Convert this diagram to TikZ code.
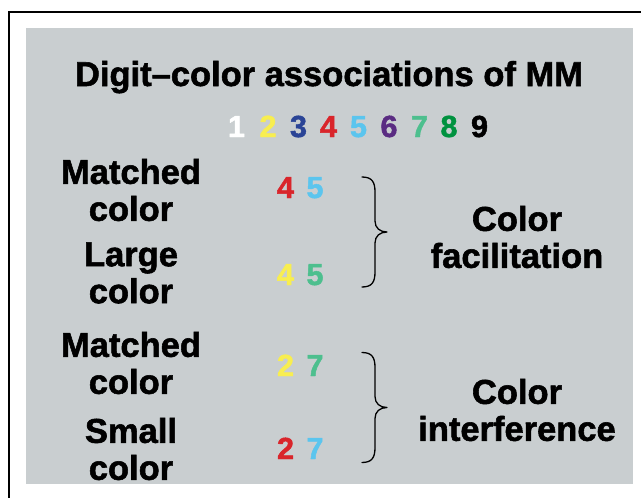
\documentclass[tikz,border=0pt]{standalone}
\usepackage{fontspec}
\setmainfont[BoldFeatures={FakeBold=1.6}]{Liberation Sans}
\definecolor{panel}{RGB}{201,206,208}
\definecolor{dyellow}{RGB}{248,238,80}
\definecolor{dblue}{RGB}{42,68,150}
\definecolor{dred}{RGB}{217,37,43}
\definecolor{dlblue}{RGB}{91,197,238}
\definecolor{dpurple}{RGB}{90,44,130}
\definecolor{dteal}{RGB}{77,191,142}
\definecolor{dgreen}{RGB}{0,146,63}
\tikzset{
  lab/.style={font=\fontsize{34.5}{37}\selectfont\bfseries, align=center, inner sep=0pt},
  titletext/.style={font=\fontsize{34.5}{37}\selectfont\bfseries, anchor=base, inner sep=0pt},
  dig/.style={font=\fontsize{30.5}{30}\selectfont\bfseries, anchor=base, inner sep=0pt},
  bracestyle/.style={line width=1.3pt, line cap=round, line join=round},
  cbrace/.pic={\draw[bracestyle] (0,0) .. controls (10,0) and (13,5) .. (13,15) -- (13,44)
      .. controls (13,51) and (18,55) .. (25,55) .. controls (18,55) and (13,59) .. (13,66)
      -- (13,95) .. controls (13,105) and (10,110) .. (0,110);}
}
\begin{document}
\begin{tikzpicture}[x=1pt,y=-1pt]
\useasboundingbox (0,0) rectangle (641,498);
\fill[white] (0,0) rectangle (641,498);
\fill[panel] (26,28) rectangle (633,484);
\coordinate (fbl) at (9,499);
\coordinate (ftl) at (9,12);
\coordinate (ftr) at (642,12);
\draw[line width=2pt] (fbl) -- (ftl) -- (ftr);

\node[titletext] (title) at (329,86) {Digit–color associations of MM};

\node[dig, text=white]   (d1) at (236.5,137) {1};
\node[dig, text=dyellow] (d2) at (268,137) {2};
\node[dig, text=dblue]   (d3) at (298.5,137) {3};
\node[dig, text=dred]    (d4) at (328.5,137) {4};
\node[dig, text=dlblue]  (d5) at (358.5,137) {5};
\node[dig, text=dpurple] (d6) at (389,137) {6};
\node[dig, text=dteal]   (d7) at (419.5,137) {7};
\node[dig, text=dgreen]  (d8) at (449,137) {8};
\node[dig, text=black]   (d9) at (479.5,137) {9};

\node[lab] (l1) at (131,190) {Matched\\color};
\node[lab] (l2) at (131,273) {Large\\color};
\node[lab] (l3) at (131,363) {Matched\\color};
\node[lab] (l4) at (131,449) {Small\\color};

\node[dig, text=dred]    (p1a) at (285.5,198) {4};
\node[dig, text=dlblue]  (p1b) at (315,198) {5};
\node[dig, text=dyellow] (p2a) at (285.5,285) {4};
\node[dig, text=dteal]   (p2b) at (315,285) {5};
\node[dig, text=dyellow] (p3a) at (285.5,376) {2};
\node[dig, text=dteal]   (p3b) at (315,376) {7};
\node[dig, text=dred]    (p4a) at (285.5,459) {2};
\node[dig, text=dlblue]  (p4b) at (315,459) {7};

\pic (b1) at (362,177) {cbrace};
\pic (b2) at (362,352.5) {cbrace};

\node[lab] (r1) at (517,237) {Color\\facilitation};
\node[lab] (r2) at (517,410) {Color\\interference};
\end{tikzpicture}
\end{document}
